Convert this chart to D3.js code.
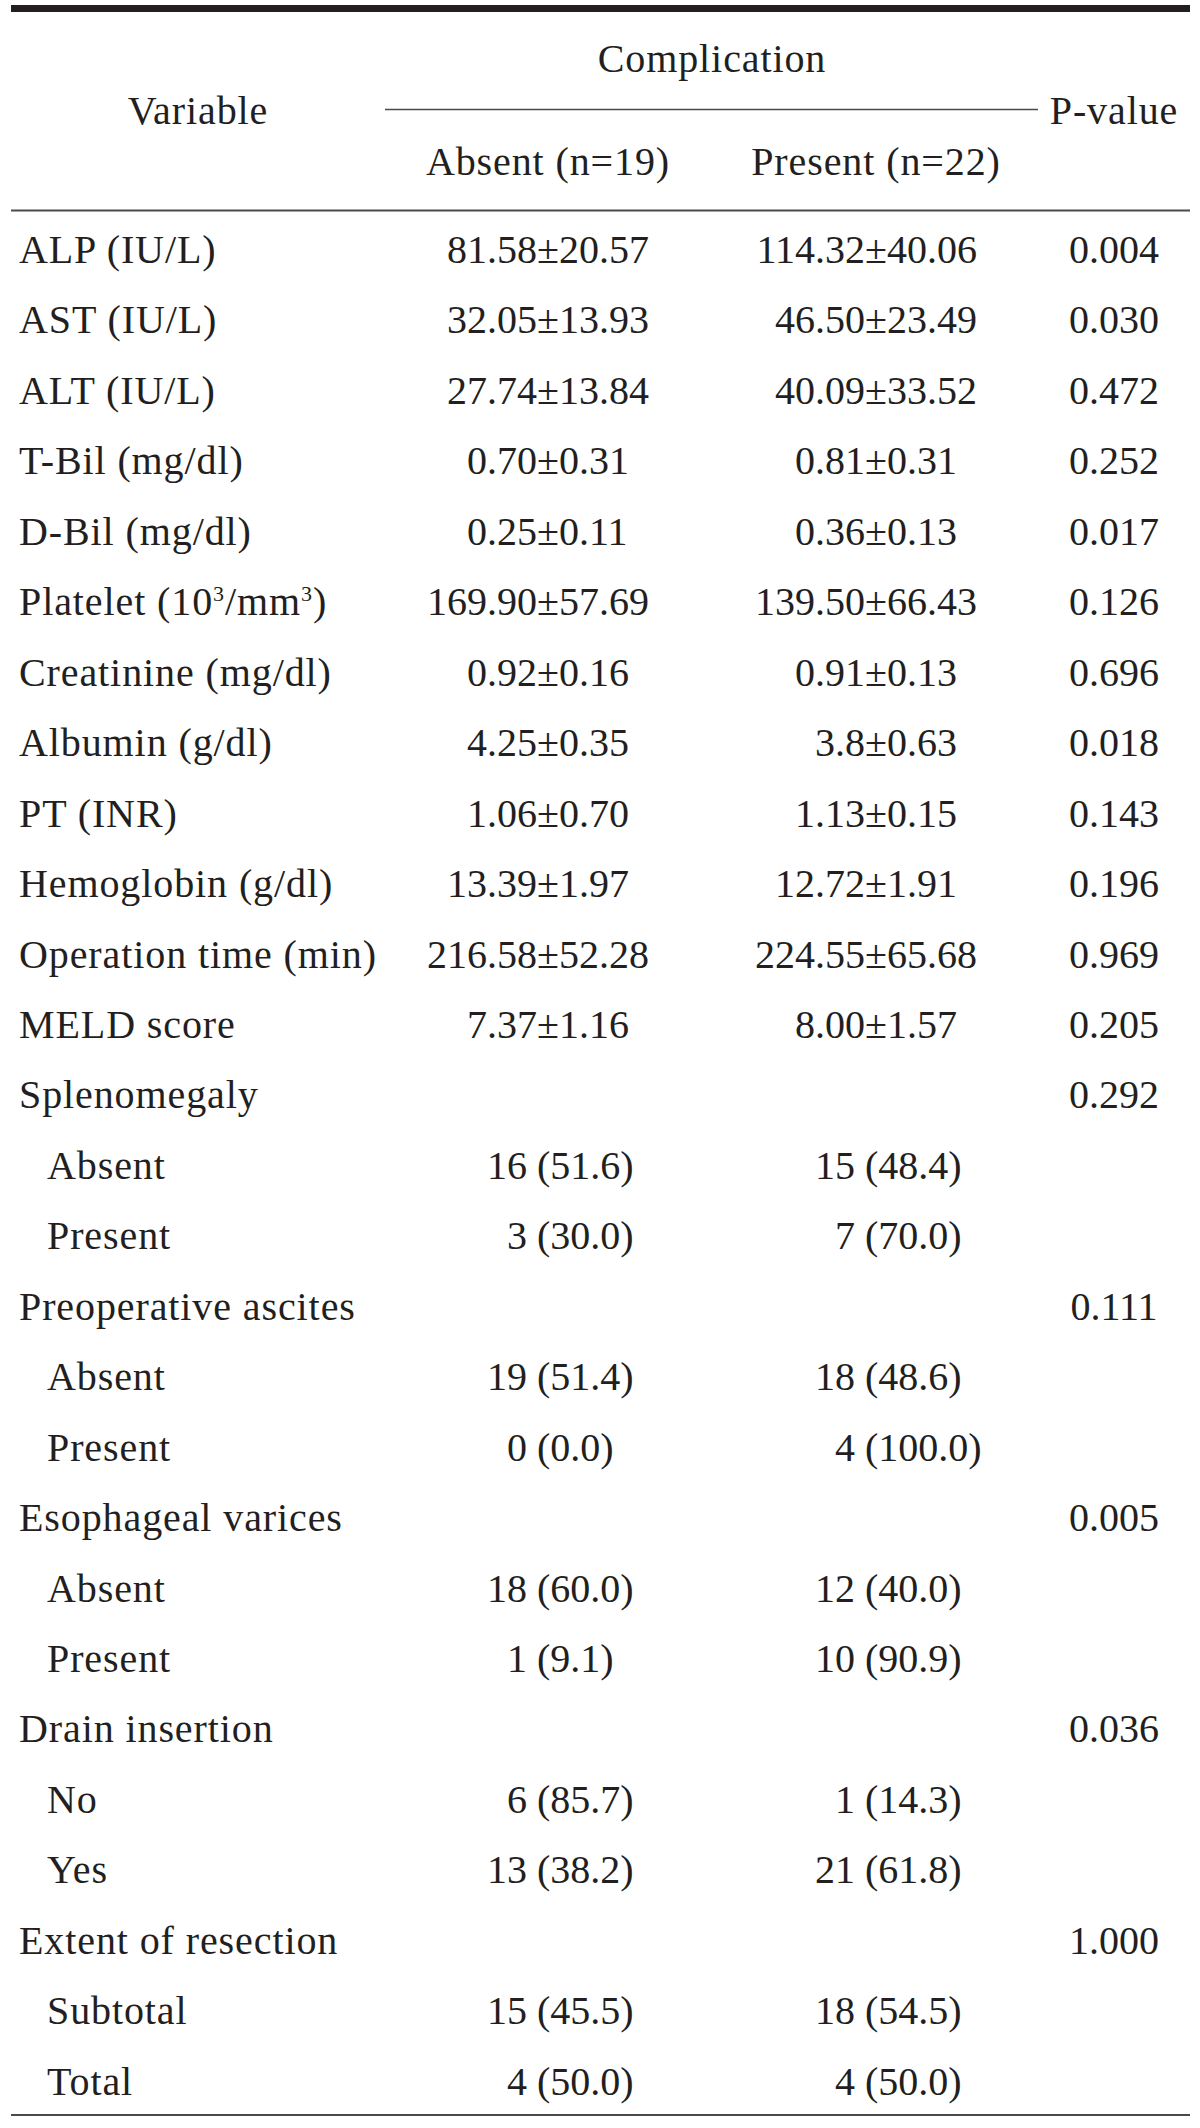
<!DOCTYPE html>
<html>
<head>
<meta charset="utf-8">
<script src="https://cdn.jsdelivr.net/npm/d3@7"></script>
<style>
  html, body { margin: 0; padding: 0; background: #fff; }
  svg { display: block; }
  text { font-family: "Liberation Serif", "Times New Roman", serif; fill: #231f20; }
</style>
</head>
<body>
<svg id="chart" width="1200" height="2128"></svg>
<script>
// ---- Data ----
const headerTitle = "Complication";
const headerVariable = "Variable";
const headerP = "P-value";
const groupLabels = ["Absent (n=19)", "Present (n=22)"];

const variables = [
  "ALP (IU/L)", "AST (IU/L)", "ALT (IU/L)", "T-Bil (mg/dl)", "D-Bil (mg/dl)",
  "Platelet (10^3/mm^3)", "Creatinine (mg/dl)", "Albumin (g/dl)", "PT (INR)",
  "Hemoglobin (g/dl)", "Operation time (min)", "MELD score",
  "Splenomegaly", "Absent", "Present",
  "Preoperative ascites", "Absent", "Present",
  "Esophageal varices", "Absent", "Present",
  "Drain insertion", "No", "Yes",
  "Extent of resection", "Subtotal", "Total"
];
const levels = [0,0,0,0,0,0,0,0,0,0,0,0, 0,1,1, 0,1,1, 0,1,1, 0,1,1, 0,1,1];
const absentValues = [
  "81.58±20.57", "32.05±13.93", "27.74±13.84", "0.70±0.31", "0.25±0.11",
  "169.90±57.69", "0.92±0.16", "4.25±0.35", "1.06±0.70", "13.39±1.97",
  "216.58±52.28", "7.37±1.16",
  "", "16 (51.6)", "3 (30.0)",
  "", "19 (51.4)", "0 (0.0)",
  "", "18 (60.0)", "1 (9.1)",
  "", "6 (85.7)", "13 (38.2)",
  "", "15 (45.5)", "4 (50.0)"
];
const presentValues = [
  "114.32±40.06", "46.50±23.49", "40.09±33.52", "0.81±0.31", "0.36±0.13",
  "139.50±66.43", "0.91±0.13", "3.8±0.63", "1.13±0.15", "12.72±1.91",
  "224.55±65.68", "8.00±1.57",
  "", "15 (48.4)", "7 (70.0)",
  "", "18 (48.6)", "4 (100.0)",
  "", "12 (40.0)", "10 (90.9)",
  "", "1 (14.3)", "21 (61.8)",
  "", "18 (54.5)", "4 (50.0)"
];
const pValues = [
  "0.004", "0.030", "0.472", "0.252", "0.017", "0.126", "0.696", "0.018",
  "0.143", "0.196", "0.969", "0.205",
  "0.292", "", "",
  "0.111", "", "",
  "0.005", "", "",
  "0.036", "", "",
  "1.000", "", ""
];

// ---- Layout ----
const fontSize = 40;
const labelSpacing = "0.9px";
const svg = d3.select("#chart");
const left = 11, right = 1190;

const rows = variables.map((v, i) => ({
  label: v, level: levels[i], absent: absentValues[i], present: presentValues[i], p: pValues[i], i
}));

const y = d3.scaleLinear().domain([0, rows.length - 1]).range([263, 263 + (rows.length - 1) * 70.45]);
const xLabel = d3.scaleOrdinal().domain([0, 1]).range([19, 47]);
// alignment anchors for the two value columns (position of "±" / "(")
const colAnchor = { absent: 537, present: 865 };
const colCenter = { absent: 548, present: 876 };
const xP = 1114;

// rules
svg.append("rect").attr("x", left).attr("y", 5).attr("width", right - left).attr("height", 7).attr("fill", "#231f20");
svg.append("line").attr("x1", 385).attr("x2", 1038).attr("y1", 109.5).attr("y2", 109.5)
  .attr("stroke", "#4a4a4a").attr("stroke-width", 1.5);
svg.append("line").attr("x1", left).attr("x2", right).attr("y1", 210.5).attr("y2", 210.5)
  .attr("stroke", "#4a4a4a").attr("stroke-width", 2);
svg.append("line").attr("x1", left).attr("x2", right).attr("y1", 2115).attr("y2", 2115)
  .attr("stroke", "#4a4a4a").attr("stroke-width", 2);

// header
const hdr = svg.append("g").attr("font-size", fontSize).attr("letter-spacing", labelSpacing);
hdr.append("text").attr("x", 712).attr("y", 72).attr("text-anchor", "middle").text(headerTitle);
hdr.append("text").attr("x", 198).attr("y", 124).attr("text-anchor", "middle").text(headerVariable);
hdr.append("text").attr("x", 1114).attr("y", 124).attr("text-anchor", "middle").text(headerP);
hdr.append("text").attr("x", colCenter.absent).attr("y", 175).attr("text-anchor", "middle").text(groupLabels[0]);
hdr.append("text").attr("x", colCenter.present).attr("y", 175).attr("text-anchor", "middle").text(groupLabels[1]);

// body
const body = svg.append("g").attr("font-size", fontSize);
const rowG = body.selectAll("g.row").data(rows).join("g").attr("class", "row")
  .attr("transform", d => `translate(0,${y(d.i)})`);

// labels (with ^ superscript support)
rowG.each(function(d) {
  const t = d3.select(this).append("text").attr("x", xLabel(d.level)).attr("letter-spacing", labelSpacing);
  const parts = d.label.split(/(\^\d+)/).filter(p => p);
  let back = 0;
  parts.forEach(p => {
    if (p.startsWith("^")) {
      t.append("tspan").attr("dy", -14 + back).attr("font-size", fontSize * 0.55).text(p.slice(1));
      back = 14;
    } else {
      const ts = t.append("tspan").text(p);
      if (back) ts.attr("dy", back);
      back = 0;
    }
  });
});

function drawValue(g, val, anchor) {
  if (!val) return;
  let l, r, gap;
  const pm = val.indexOf("±");
  if (pm >= 0) { l = val.slice(0, pm); r = val.slice(pm); gap = 0; }
  else { const k = val.indexOf(" ("); l = val.slice(0, k); r = val.slice(k + 1); gap = 10; }
  g.append("text").attr("x", anchor - gap).attr("text-anchor", "end").text(l);
  g.append("text").attr("x", anchor).attr("text-anchor", "start").text(r);
}

rowG.each(function(d) {
  const g = d3.select(this);
  drawValue(g, d.absent, colAnchor.absent);
  drawValue(g, d.present, colAnchor.present);
  if (d.p) g.append("text").attr("x", xP).attr("text-anchor", "middle").text(d.p);
});
</script>
</body>
</html>
